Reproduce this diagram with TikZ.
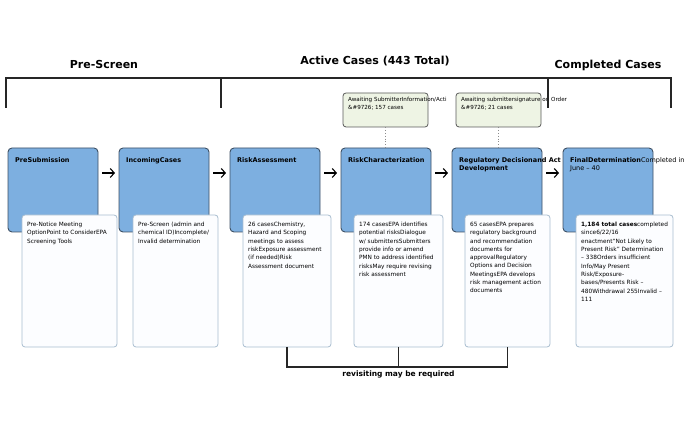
\documentclass[tikz,border=0pt]{standalone}
\usepackage{fontspec}
\setmainfont{DejaVu Sans}
\usetikzlibrary{arrows.meta,positioning}
\definecolor{stageblue}{RGB}{125,175,224}
\definecolor{stageline}{RGB}{62,80,100}
\definecolor{noteline}{RGB}{168,189,207}
\definecolor{notefill}{RGB}{252,253,255}
\definecolor{waitfill}{RGB}{238,244,228}
\definecolor{waitline}{RGB}{90,90,90}

\begin{document}
\begin{tikzpicture}[
    x=1pt, y=1pt,
    stage/.style={draw=stageline, line width=0.9pt, fill=stageblue, rounded corners=4pt,
                  minimum width=90pt, minimum height=84pt, inner sep=0pt, outer sep=0pt},
    stagetitle/.style={anchor=north west, align=left, inner sep=0pt,
                  font=\fontsize{6.5}{8.4}\selectfont\bfseries},
    notebox/.style={draw=noteline, line width=0.8pt, fill=notefill, rounded corners=3pt,
                  minimum width=88pt, minimum height=132pt, inner sep=0pt, outer sep=0pt,
                  anchor=north west},
    notetext/.style={anchor=north west, align=left, inner sep=0pt,
                  font=\fontsize{5.8}{8.3}\selectfont},
    waitbox/.style={draw=waitline, line width=0.8pt, fill=waitfill, rounded corners=3pt,
                  minimum width=85pt, minimum height=34pt, inner sep=0pt, outer sep=0pt,
                  anchor=north west},
    waittext/.style={anchor=north west, align=left, inner sep=0pt,
                  font=\fontsize{5.6}{8}\selectfont},
    hdr/.style={font=\fontsize{11}{13}\selectfont\bfseries, inner sep=0pt},
    brk/.style={line width=1.1pt, draw=black!85},
    arr/.style={-{Straight Barb[length=4pt,width=9pt]}, line width=1.1pt,
                shorten <=4pt, shorten >=4pt},
    dots/.style={dotted, line width=0.9pt, draw=black!45}
]
\useasboundingbox (0,0) rectangle (696,446);

% waiting states
\node[waitbox] (waitinfo) at (343,353) {};
\node[waittext] (waitinfo-t) at ([shift={(5pt,-4pt)}]waitinfo.north west)
    {Awaiting SubmitterInformation/Acti\\\&\#9726; 157 cases};
\node[waitbox] (waitsign) at (456,353) {};
\node[waittext] (waitsign-t) at ([shift={(5pt,-4pt)}]waitsign.north west)
    {Awaiting submittersignature on Order\\\&\#9726; 21 cases};

% headers
\node[hdr] (prescreen) at (104,381) {Pre-Screen};
\node[hdr] (active) at (375,385) {Active Cases (443 Total)};
\node[hdr] (completed) at (608,381) {Completed Cases};
\draw[brk] (6,338) -- (6,368) -- (671,368) -- (671,338);
\draw[brk] (221,368) -- (221,338);
\draw[brk] (548,368) -- (548,338);

% stages
\node[stage, anchor=north west] (presub) at (8,298) {};
\node[stagetitle] (presub-t) at ([shift={(7pt,-9pt)}]presub.north west) {PreSubmission};
\node[notebox, minimum width=95pt] (presub-d) at ([shift={(14pt,-67pt)}]presub.north west) {};
\node[notetext] (presub-x) at ([shift={(5pt,-7pt)}]presub-d.north west)
    {Pre-Notice Meeting\\OptionPoint to ConsiderEPA\\Screening Tools};

\node[stage, right=21pt of presub] (incoming) {};
\node[stagetitle] (incoming-t) at ([shift={(7pt,-9pt)}]incoming.north west) {IncomingCases};
\node[notebox, minimum width=85pt] (incoming-d) at ([shift={(14pt,-67pt)}]incoming.north west) {};
\node[notetext] (incoming-x) at ([shift={(5pt,-7pt)}]incoming-d.north west)
    {Pre-Screen (admin and\\chemical ID)Incomplete/\\Invalid determination};

\node[stage, right=21pt of incoming] (riska) {};
\node[stagetitle] (riska-t) at ([shift={(7pt,-9pt)}]riska.north west) {RiskAssessment};
\node[notebox] (riska-d) at ([shift={(13pt,-67pt)}]riska.north west) {};
\node[notetext] (riska-x) at ([shift={(5pt,-7pt)}]riska-d.north west)
    {26 casesChemistry,\\Hazard and Scoping\\meetings to assess\\riskExposure assessment\\(if needed)Risk\\Assessment document};

\node[stage, right=21pt of riska] (richar) {};
\node[stagetitle] (richar-t) at ([shift={(7pt,-9pt)}]richar.north west) {RiskCharacterization};
\node[notebox, minimum width=89pt] (richar-d) at ([shift={(13pt,-67pt)}]richar.north west) {};
\node[notetext] (richar-x) at ([shift={(5pt,-7pt)}]richar-d.north west)
    {174 casesEPA identifies\\potential risksDialogue\\w/ submittersSubmitters\\provide info or amend\\PMN to address identified\\risksMay require revising\\risk assessment};

\node[stage, right=21pt of richar] (regdev) {};
\node[stagetitle] (regdev-t) at ([shift={(7pt,-9pt)}]regdev.north west)
    {Regulatory Decisionand Act\\Development};
\node[notebox, minimum width=85pt] (regdev-d) at ([shift={(13pt,-67pt)}]regdev.north west) {};
\node[notetext] (regdev-x) at ([shift={(5pt,-7pt)}]regdev-d.north west)
    {65 casesEPA prepares\\regulatory background\\and recommendation\\documents for\\approvalRegulatory\\Options and Decision\\MeetingsEPA develops\\risk management action\\documents};

\node[stage, right=21pt of regdev] (final) {};
\node[stagetitle] (final-t) at ([shift={(7pt,-9pt)}]final.north west)
    {FinalDetermination\mdseries Completed in\\\mdseries June -- 40};
\node[notebox, minimum width=97pt] (final-d) at ([shift={(13pt,-67pt)}]final.north west) {};
\node[notetext] (final-x) at ([shift={(5pt,-7pt)}]final-d.north west)
    {\textbf{1,184 total cases}completed\\since6/22/16\\enactment“Not Likely to\\Present Risk” Determination\\-- 338Orders insufficient\\Info/May Present\\Risk/Exposure-\\bases/Presents Risk --\\480Withdrawal 255Invalid --\\111};

\draw[arr] ([yshift=-25pt]presub.north east) -- ([yshift=-25pt]incoming.north west);
\draw[arr] ([yshift=-25pt]incoming.north east) -- ([yshift=-25pt]riska.north west);
\draw[arr] ([yshift=-25pt]riska.north east) -- ([yshift=-25pt]richar.north west);
\draw[arr] ([yshift=-25pt]richar.north east) -- ([yshift=-25pt]regdev.north west);
\draw[arr] ([yshift=-25pt]regdev.north east) -- ([yshift=-25pt]final.north west);

\draw[dots] (waitinfo.south) -- (waitinfo.south |- richar.north);
\draw[dots] (waitsign.south) -- (waitsign.south |- regdev.north);

% revisiting
\draw[brk] (riska-d.south) -- ++(0,-20) -| (regdev-d.south);
\draw[brk] (richar-d.south) -- ++(0,-20);
\node[font=\fontsize{7.5}{9}\selectfont\bfseries, inner sep=0pt] (revisit)
    at ([yshift=-27pt]richar-d.south) {revisiting may be required};
\end{tikzpicture}
\end{document}
